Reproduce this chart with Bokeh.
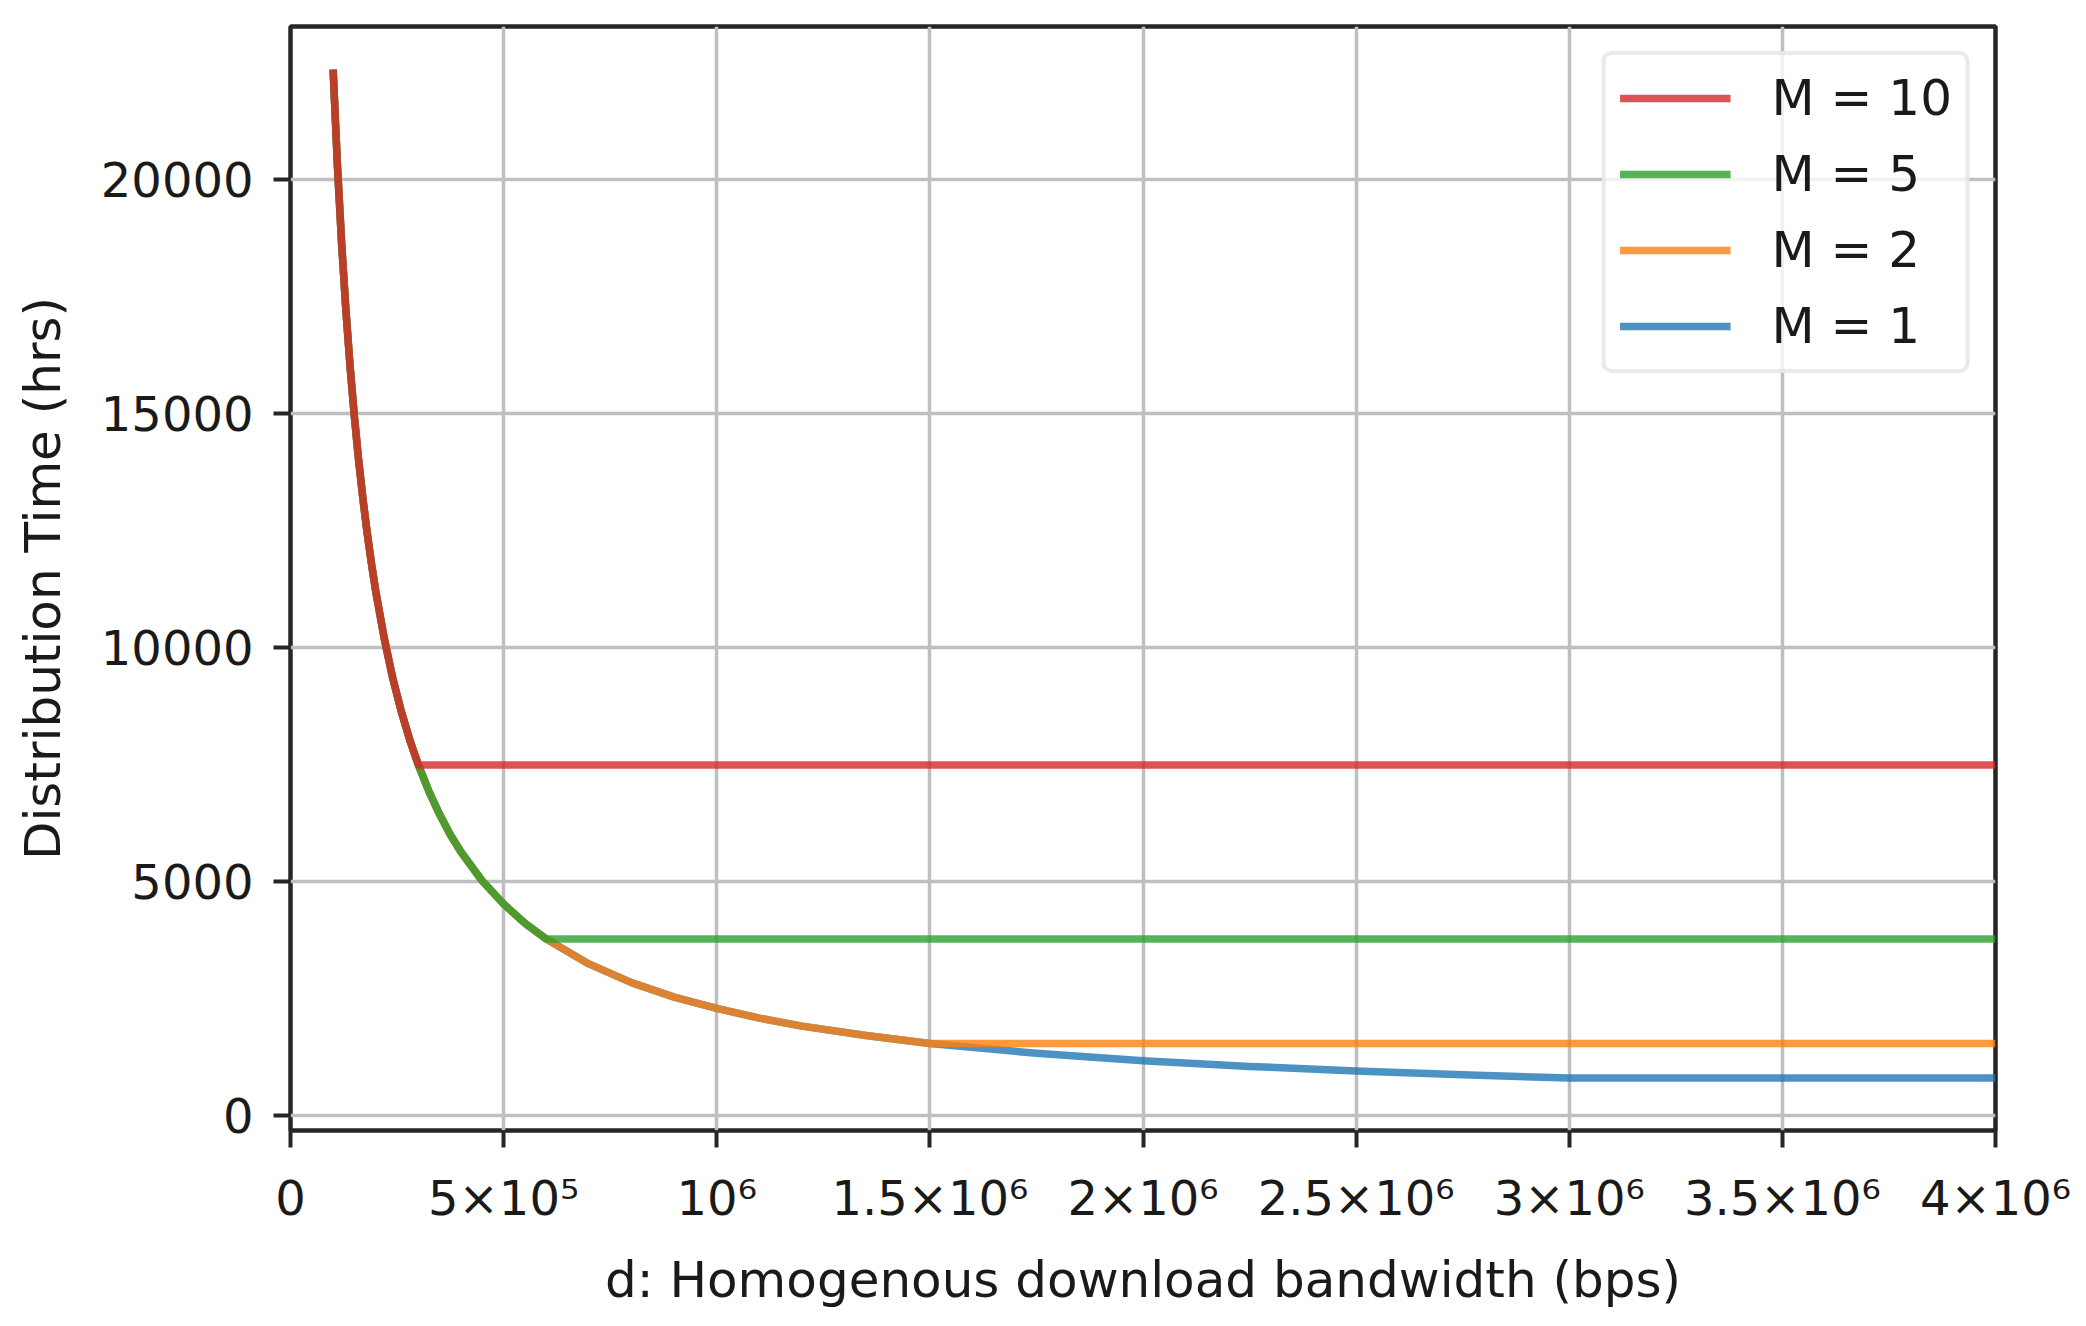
from bokeh.plotting import figure
from bokeh.models import Legend, LegendItem, FixedTicker, Range1d
from bokeh.embed import file_html
from bokeh.resources import INLINE

# ---- data ----
bandwidth = [100000, 110000, 120000, 130000, 140000, 150000, 160000, 170000, 180000, 190000,
             200000, 220000, 240000, 260000, 280000, 300000, 325000, 350000, 375000, 400000,
             450000, 500000, 550000, 600000, 700000, 800000, 900000, 1000000, 1100000, 1200000,
             1350000, 1500000, 1750000, 2000000, 2250000, 2500000, 2750000, 3000000, 4000000]

time_m1 = [22350, 20320, 18630, 17200, 15980, 14920, 13990, 13170, 12440, 11790,
           11200, 10190, 9340, 8630, 8020, 7490, 6920, 6430, 6000, 5630,
           5010, 4520, 4110, 3770, 3240, 2840, 2530, 2290, 2080, 1910,
           1710, 1540, 1330, 1170, 1050, 950, 870, 800, 800]

time_m2 = [22350, 20320, 18630, 17200, 15980, 14920, 13990, 13170, 12440, 11790,
           11200, 10190, 9340, 8630, 8020, 7490, 6920, 6430, 6000, 5630,
           5010, 4520, 4110, 3770, 3240, 2840, 2530, 2290, 2080, 1910,
           1710, 1540, 1540, 1540, 1540, 1540, 1540, 1540, 1540]

time_m5 = [22350, 20320, 18630, 17200, 15980, 14920, 13990, 13170, 12440, 11790,
           11200, 10190, 9340, 8630, 8020, 7490, 6920, 6430, 6000, 5630,
           5010, 4520, 4110, 3770, 3770, 3770, 3770, 3770, 3770, 3770,
           3770, 3770, 3770, 3770, 3770, 3770, 3770, 3770, 3770]

time_m10 = [22350, 20320, 18630, 17200, 15980, 14920, 13990, 13170, 12440, 11790,
            11200, 10190, 9340, 8630, 8020, 7490, 7490, 7490, 7490, 7490,
            7490, 7490, 7490, 7490, 7490, 7490, 7490, 7490, 7490, 7490,
            7490, 7490, 7490, 7490, 7490, 7490, 7490, 7490, 7490]

series_labels = ["M = 1", "M = 2", "M = 5", "M = 10"]
series_colors = ["#1f77b4", "#ff7f0e", "#2ca02c", "#d62728"]
series_values = [time_m1, time_m2, time_m5, time_m10]

x_ticks = [0, 500000, 1000000, 1500000, 2000000, 2500000, 3000000, 3500000, 4000000]
x_tick_labels = ["0", "5×10⁵", "10⁶", "1.5×10⁶", "2×10⁶", "2.5×10⁶", "3×10⁶", "3.5×10⁶", "4×10⁶"]
y_ticks = [0, 5000, 10000, 15000, 20000]

FONT = "DejaVu Sans"
TEXT = "#1a1a1a"

p = figure(frame_width=1705, frame_height=1104,
           x_range=Range1d(0, 4000000), y_range=Range1d(-320, 23270),
           output_backend="svg", toolbar_location=None,
           min_border_left=290, min_border_top=26, min_border_right=80, min_border_bottom=150,
           background_fill_color="white", border_fill_color="white")

p.outline_line_color = "#262626"
p.outline_line_width = 4.5
p.outline_line_alpha = 1.0

renderers = []
for vals, col in zip(series_values, series_colors):
    r = p.line(bandwidth, vals, line_color=col, line_width=7.5, line_alpha=0.8,
               line_join="round")
    renderers.append(r)

# grid
for g in (p.xgrid, p.ygrid):
    g.grid_line_color = "#bfbfbf"
    g.grid_line_width = 3.5
p.xgrid.ticker = FixedTicker(ticks=x_ticks)
p.ygrid.ticker = FixedTicker(ticks=y_ticks)

# axes
p.xaxis.ticker = FixedTicker(ticks=x_ticks)
p.xaxis.major_label_overrides = {t: lab for t, lab in zip(x_ticks, x_tick_labels)}
p.yaxis.ticker = FixedTicker(ticks=y_ticks)
p.yaxis.major_label_overrides = {t: str(t) for t in y_ticks}

for ax in (p.xaxis[0], p.yaxis[0]):
    ax.axis_line_color = None
    ax.major_tick_in = 0
    ax.major_tick_out = 17
    ax.major_tick_line_width = 4
    ax.major_tick_line_color = "#262626"
    ax.minor_tick_line_color = None
    ax.major_label_text_font = FONT
    ax.major_label_text_font_size = "48px"
    ax.major_label_text_color = TEXT
    ax.axis_label_text_font = FONT
    ax.axis_label_text_font_size = "50px"
    ax.axis_label_text_font_style = "normal"
    ax.axis_label_text_color = TEXT

p.xaxis.axis_label = "d: Homogenous download bandwidth (bps)"
p.yaxis.axis_label = "Distribution Time (hrs)"
p.xaxis.major_label_standoff = 22
p.yaxis.major_label_standoff = 20
p.xaxis.axis_label_standoff = 22
p.yaxis.axis_label_standoff = 26

# legend (order: M = 10, 5, 2, 1)
items = [LegendItem(label=series_labels[i], renderers=[renderers[i]]) for i in (3, 2, 1, 0)]
legend = Legend(items=items, location="top_right")
legend.margin = 25
legend.padding = 14
legend.spacing = 18
legend.glyph_width = 111
legend.glyph_height = 50
legend.label_height = 50
legend.label_standoff = 41
legend.label_text_font = FONT
legend.label_text_font_size = "50px"
legend.label_text_color = TEXT
legend.label_text_baseline = "middle"
legend.border_line_color = "#d6d6d6"
legend.border_line_width = 4
legend.background_fill_color = "white"
legend.background_fill_alpha = 0.8
try:
    legend.border_radius = 10
except Exception:
    pass
p.add_layout(legend)

open("out.html", "w").write(file_html(p, INLINE))
